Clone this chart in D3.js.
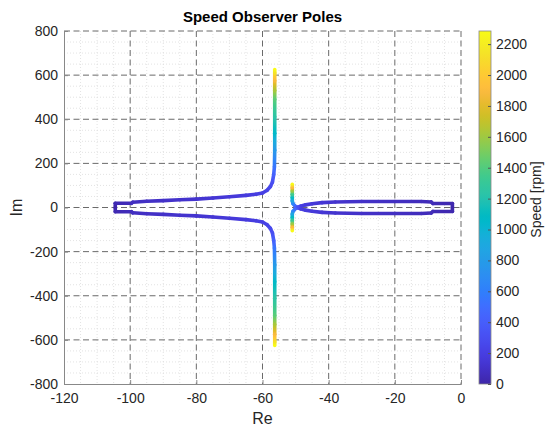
<!DOCTYPE html>
<html>
<head>
<meta charset="utf-8">
<script src="https://cdn.jsdelivr.net/npm/d3@7"></script>
<style>
  html, body { margin: 0; padding: 0; background: #fff; }
  svg { display: block; font-family: "Liberation Sans", Arial, Helvetica, sans-serif; }
</style>
</head>
<body>
<svg id="chart" width="545" height="430"></svg>
<script>
// Axis ticks
const reTicks = [-120, -100, -80, -60, -40, -20, 0];
const imTicks = [-800, -600, -400, -200, 0, 200, 400, 600, 800];
const speedTicks = [0, 200, 400, 600, 800, 1000, 1200, 1400, 1600, 1800, 2000, 2200];
const speedMax = 2285;

// Outer pole pair (upper half; the lower half is its conjugate)
const outerRe = [-104.5, -104.5, -99.6, -99.2, -95, -90, -85, -80, -75, -70, -65, -62, -60, -58.6, -57.6, -57.0, -56.6, -56.4, -56.3, -56.3, -56.3, -56.3, -56.3, -56.3, -56.3, -56.3];
const outerIm = [0, 19, 19, 24, 28, 31, 35, 38, 43, 49, 55, 60, 66, 78, 95, 115, 150, 184, 260, 336, 411, 490, 530, 575, 610, 625];
const outerSpeed = [0, 30, 60, 75, 90, 100, 115, 125, 140, 160, 175, 190, 205, 230, 265, 300, 420, 540, 780, 1060, 1240, 1420, 1620, 1880, 2130, 2285];

// Inner pole pair (upper half)
const innerRe = [-2.6, -2.6, -8.5, -9.0, -12, -20, -30, -38, -42, -45, -47, -48.5, -49.4, -50.2, -50.8, -51, -51, -51, -51, -51, -51];
const innerIm = [0, 18, 18, 25, 27, 27.5, 27, 25, 22, 17, 12, 6, 0, 7, 18, 30, 45, 60, 75, 90, 105];
const innerSpeed = [0, 20, 40, 50, 60, 80, 100, 120, 140, 160, 175, 190, 300, 450, 650, 860, 1100, 1330, 1580, 1900, 2285];

// MATLAB parula colormap, 64 entries
const parulaMap = [
[0.2422,0.1504,0.6603],[0.2504,0.1650,0.7076],[0.2578,0.1818,0.7511],[0.2647,0.1978,0.7952],
[0.2706,0.2147,0.8364],[0.2751,0.2342,0.8710],[0.2783,0.2559,0.8991],[0.2803,0.2782,0.9221],
[0.2813,0.3006,0.9414],[0.2810,0.3228,0.9579],[0.2795,0.3447,0.9717],[0.2760,0.3667,0.9829],
[0.2699,0.3892,0.9906],[0.2602,0.4123,0.9952],[0.2440,0.4358,0.9988],[0.2206,0.4603,0.9973],
[0.1963,0.4847,0.9892],[0.1834,0.5074,0.9798],[0.1786,0.5289,0.9682],[0.1764,0.5499,0.9520],
[0.1687,0.5703,0.9359],[0.1540,0.5902,0.9218],[0.1460,0.6091,0.9079],[0.1380,0.6276,0.8973],
[0.1248,0.6459,0.8883],[0.1113,0.6635,0.8763],[0.0952,0.6798,0.8598],[0.0689,0.6948,0.8394],
[0.0297,0.7082,0.8163],[0.0036,0.7203,0.7917],[0.0067,0.7312,0.7660],[0.0433,0.7411,0.7394],
[0.0964,0.7500,0.7120],[0.1408,0.7584,0.6842],[0.1717,0.7670,0.6554],[0.1938,0.7758,0.6251],
[0.2161,0.7843,0.5923],[0.2470,0.7918,0.5567],[0.2906,0.7973,0.5188],[0.3406,0.8008,0.4789],
[0.3909,0.8029,0.4354],[0.4456,0.8024,0.3909],[0.5044,0.7993,0.3480],[0.5616,0.7942,0.3045],
[0.6174,0.7876,0.2612],[0.6720,0.7793,0.2227],[0.7242,0.7698,0.1910],[0.7738,0.7598,0.1646],
[0.8203,0.7498,0.1535],[0.8634,0.7406,0.1596],[0.9035,0.7330,0.1774],[0.9393,0.7288,0.2100],
[0.9728,0.7298,0.2394],[0.9956,0.7434,0.2371],[0.9970,0.7659,0.2199],[0.9952,0.7893,0.2028],
[0.9892,0.8136,0.1885],[0.9786,0.8386,0.1766],[0.9676,0.8639,0.1643],[0.9610,0.8890,0.1537],
[0.9597,0.9135,0.1423],[0.9628,0.9373,0.1265],[0.9691,0.9606,0.1064],[0.9769,0.9839,0.0805]];

function parula(t) {
  t = Math.max(0, Math.min(1, t));
  const x = t * (parulaMap.length - 1);
  const i = Math.min(Math.floor(x), parulaMap.length - 2);
  const f = x - i;
  const a = parulaMap[i], b = parulaMap[i + 1];
  return d3.rgb(
    255 * (a[0] + (b[0] - a[0]) * f),
    255 * (a[1] + (b[1] - a[1]) * f),
    255 * (a[2] + (b[2] - a[2]) * f)).formatHex();
}

const svg = d3.select("#chart");
const defs = svg.append("defs");

const plot = { left: 64, right: 461, top: 31, bottom: 384 };
const x = d3.scaleLinear().domain([-120, 0]).range([plot.left, plot.right]);
const y = d3.scaleLinear().domain([-800, 800]).range([plot.bottom, plot.top]);
const color = d3.scaleLinear().domain([0, speedMax]).range([0, 1]);

// Minor grid
const minorX = d3.range(-115, 0, 5).filter(v => v % 20 !== 0);
const minorY = d3.range(-750, 800, 50).filter(v => v % 200 !== 0);
const grid = svg.append("g");
grid.selectAll(".mx").data(minorX).join("line")
  .attr("x1", d => x(d)).attr("x2", d => x(d))
  .attr("y1", plot.top).attr("y2", plot.bottom)
  .attr("stroke", "#dcdcdc").attr("stroke-width", 0.8).attr("stroke-dasharray", "1,2");
grid.selectAll(".my").data(minorY).join("line")
  .attr("y1", d => y(d)).attr("y2", d => y(d))
  .attr("x1", plot.left).attr("x2", plot.right)
  .attr("stroke", "#dcdcdc").attr("stroke-width", 0.8).attr("stroke-dasharray", "1,2");

// Major grid
grid.selectAll(".gx").data(reTicks.filter(v => v !== -120)).join("line")
  .attr("x1", d => x(d)).attr("x2", d => x(d))
  .attr("y1", plot.top).attr("y2", plot.bottom)
  .attr("stroke", "#6a6a6a").attr("stroke-width", 1).attr("stroke-dasharray", "6,3.5");
grid.selectAll(".gy").data(imTicks.filter(v => v !== -800)).join("line")
  .attr("y1", d => y(d)).attr("y2", d => y(d))
  .attr("x1", plot.left).attr("x2", plot.right)
  .attr("stroke", "#6a6a6a").attr("stroke-width", 1).attr("stroke-dasharray", "6,3.5");

// Axes
const xAxis = d3.axisBottom(x).tickValues(reTicks).tickSize(-4).tickPadding(8).tickFormat(d3.format("d"));
const yAxis = d3.axisLeft(y).tickValues(imTicks).tickSize(-4).tickPadding(6).tickFormat(d3.format("d"));
const gx = svg.append("g").attr("transform", `translate(0,${plot.bottom})`).call(xAxis);
const gy = svg.append("g").attr("transform", `translate(${plot.left},0)`).call(yAxis);
[gx, gy].forEach(g => {
  g.select(".domain").attr("stroke", "#888").attr("stroke-width", 1);
  g.selectAll(".tick line").attr("stroke", "#888");
  g.selectAll(".tick text").attr("fill", "#262626").attr("font-size", 14)
    .attr("font-family", "Liberation Sans, Arial, sans-serif");
});
gx.selectAll(".tick text").attr("dy", "0.75em");
gx.selectAll(".tick text").filter(d => d < 0).text(d => "-" + Math.abs(d));
gy.selectAll(".tick text").filter(d => d < 0).text(d => "-" + Math.abs(d));

// Pole trajectories, coloured by speed
const traj = svg.append("g").attr("stroke-linecap", "round").attr("fill", "none");
let gid = 0;
function drawBranch(reArr, imArr, spArr, sign) {
  for (let i = 0; i < reArr.length - 1; i++) {
    const x1 = x(reArr[i]), y1 = y(sign * imArr[i]);
    const x2 = x(reArr[i + 1]), y2 = y(sign * imArr[i + 1]);
    const s1 = spArr[i], s2 = spArr[i + 1];
    let stroke;
    if (Math.abs(s2 - s1) < 1 || (Math.abs(x2 - x1) < 0.01 && Math.abs(y2 - y1) < 0.01)) {
      stroke = parula(color((s1 + s2) / 2));
    } else {
      const id = "seg" + (gid++);
      const lg = defs.append("linearGradient").attr("id", id)
        .attr("gradientUnits", "userSpaceOnUse")
        .attr("x1", x1).attr("y1", y1).attr("x2", x2).attr("y2", y2);
      const n = 8;
      for (let k = 0; k <= n; k++) {
        const f = k / n;
        lg.append("stop").attr("offset", f).attr("stop-color", parula(color(s1 + (s2 - s1) * f)));
      }
      stroke = `url(#${id})`;
    }
    traj.append("line")
      .attr("x1", x1).attr("y1", y1).attr("x2", x2).attr("y2", y2)
      .attr("stroke", stroke).attr("stroke-width", 3.6);
  }
}
[1, -1].forEach(sign => {
  drawBranch(outerRe, outerIm, outerSpeed, sign);
  drawBranch(innerRe, innerIm, innerSpeed, sign);
});

// Title and axis labels
svg.append("text").attr("x", (plot.left + plot.right) / 2).attr("y", 22)
  .attr("text-anchor", "middle").attr("font-size", 15).attr("font-weight", "bold")
  .attr("fill", "#000").text("Speed Observer Poles");
svg.append("text").attr("x", (plot.left + plot.right) / 2).attr("y", 424)
  .attr("text-anchor", "middle").attr("font-size", 16).attr("fill", "#262626").text("Re");
svg.append("text").attr("transform", `translate(22,${(plot.top + plot.bottom) / 2}) rotate(-90)`)
  .attr("text-anchor", "middle").attr("font-size", 16).attr("fill", "#262626").text("Im");

// Colorbar
const cb = { left: 479, width: 12 };
const cScale = d3.scaleLinear().domain([0, speedMax]).range([plot.bottom, plot.top]);
const cg = defs.append("linearGradient").attr("id", "cbar")
  .attr("x1", 0).attr("y1", 1).attr("x2", 0).attr("y2", 0);
parulaMap.forEach((c, i) => {
  cg.append("stop").attr("offset", i / (parulaMap.length - 1))
    .attr("stop-color", d3.rgb(c[0] * 255, c[1] * 255, c[2] * 255).formatHex());
});
svg.append("rect").attr("x", cb.left).attr("y", plot.top)
  .attr("width", cb.width).attr("height", plot.bottom - plot.top)
  .attr("fill", "url(#cbar)").attr("stroke", "#888").attr("stroke-width", 0.8);
const cAxis = d3.axisRight(cScale).tickValues(speedTicks).tickSize(-3).tickPadding(5).tickFormat(d3.format("d"));
const gc = svg.append("g").attr("transform", `translate(${cb.left + cb.width},0)`).call(cAxis);
gc.select(".domain").remove();
gc.selectAll(".tick line").attr("stroke", "#555");
gc.selectAll(".tick text").attr("fill", "#262626").attr("font-size", 14)
  .attr("font-family", "Liberation Sans, Arial, sans-serif");
svg.append("text").attr("transform", `translate(541,${(plot.top + plot.bottom) / 2 - 8}) rotate(-90)`)
  .attr("text-anchor", "middle").attr("font-size", 14).attr("fill", "#262626").text("Speed [rpm]");
</script>
</body>
</html>
